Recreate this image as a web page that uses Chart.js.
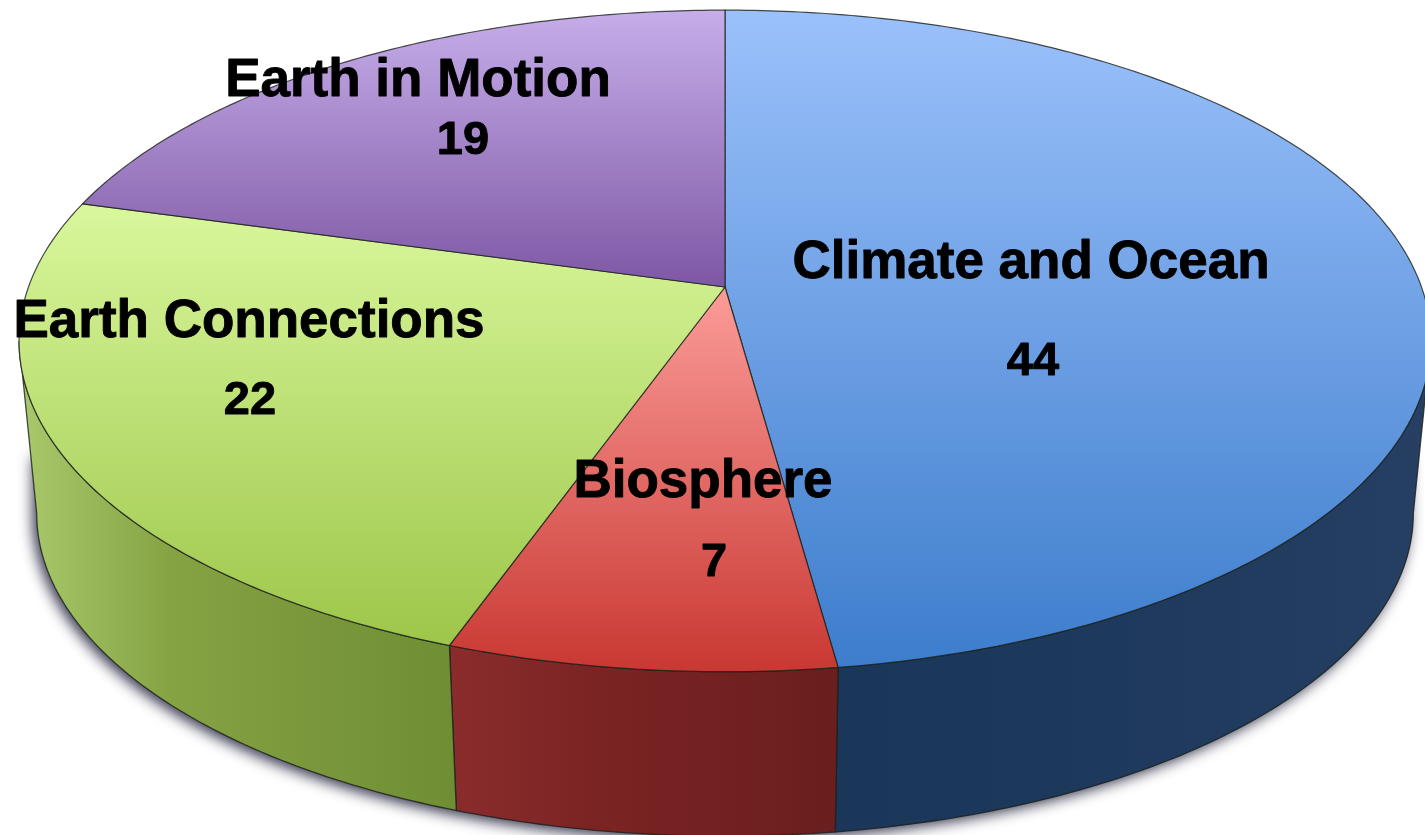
<!DOCTYPE html>
<html>
<head>
<meta charset="utf-8">
<title>Earth science topics</title>
<script src="https://cdn.jsdelivr.net/npm/chart.js@4"></script>
<style>
  html, body { margin: 0; padding: 0; background: #fff; overflow: hidden; }
  canvas { display: block; }
</style>
</head>
<body>
<canvas id="pie" width="1425" height="835"></canvas>
<script>
const categories = ['Climate and Ocean', 'Biosphere', 'Earth Connections', 'Earth in Motion'];
const counts = [44, 7, 22, 19];

// top face gradient (light, dark) per slice
const faceLight = ['#9bc1fb', '#fb9c99', '#d9f79c', '#c6aeea'];
const faceDark = ['#3d7dcc', '#c93832', '#9dc64a', '#7e57a4'];
// side wall gradient stops per slice, left to right
const wallLeft = ['#1a3659', '#8b2c2c', '#a9c96c', '#000000'];
const wallMid = ['#1c385b', '#7c2424', '#85a343', '#000000'];
const wallRight = ['#263f62', '#6a1e1e', '#6f8d33', '#000000'];

// label anchors: centre x and baseline y, for the name and the number
const labelPos = [
  { x: 1031, y: 278, nx: 1033, ny: 375 },
  { x: 703, y: 497, nx: 714, ny: 576 },
  { x: 249, y: 337, nx: 250, ny: 414 },
  { x: 418, y: 96, nx: 463, ny: 154 }
];

// perspective disc: unit circle seen from above and in front
const view = { cx: 725, cy: 287, rx: 696.5, ry: 322, tilt: 0.163 };
const base = { dy: 174, scale: 0.975 };

function project(a, floor) {
  const d = 1 - view.tilt * Math.sin(a);
  const x = view.rx * Math.cos(a) / d;
  const y = view.ry * Math.sin(a) / d;
  if (!floor) return { x: view.cx + x, y: view.cy + y };
  return { x: view.cx + x * base.scale, y: view.cy + base.dy + y * base.scale };
}

function arcPoints(start, end, floor) {
  const pts = [];
  const n = Math.max(2, Math.ceil((end - start) * 80));
  for (let i = 0; i <= n; i++) pts.push(project(start + (end - start) * i / n, floor));
  return pts;
}

function tracePath(ctx, pts) {
  ctx.beginPath();
  pts.forEach((p, i) => (i ? ctx.lineTo(p.x, p.y) : ctx.moveTo(p.x, p.y)));
}

const edge = 'rgba(28, 34, 28, 0.8)';

function drawWalls(ctx, arcs) {
  const visFrom = Math.asin(view.tilt);
  const visTo = Math.PI - visFrom;

  // soft shadow around the lower part of the wall, heavier on the left
  const rim = arcPoints(visFrom, visTo, true);
  const first = rim[0];
  const last = rim[rim.length - 1];
  ctx.save();
  ctx.shadowColor = 'rgba(45, 45, 70, 0.95)';
  ctx.shadowBlur = 14;
  ctx.shadowOffsetX = -4;
  ctx.shadowOffsetY = 4;
  ctx.fillStyle = '#555';
  tracePath(ctx, rim.concat([{ x: last.x, y: last.y - 60 }, { x: first.x, y: first.y - 60 }]));
  ctx.closePath();
  ctx.fill();
  ctx.restore();

  arcs.forEach((arc, i) => {
    const from = Math.max(arc.startAngle, visFrom);
    const to = Math.min(arc.endAngle, visTo);
    if (to <= from) return;
    const upper = arcPoints(from, to, false);
    const lower = arcPoints(from, to, true);
    const xs = upper.concat(lower).map(p => p.x);
    const g = ctx.createLinearGradient(Math.min(...xs), 0, Math.max(...xs), 0);
    g.addColorStop(0, wallLeft[i]);
    g.addColorStop(0.35, wallMid[i]);
    g.addColorStop(1, wallRight[i]);
    tracePath(ctx, upper.concat(lower.slice().reverse()));
    ctx.closePath();
    ctx.fillStyle = g;
    ctx.fill();
    ctx.strokeStyle = edge;
    ctx.lineWidth = 1.3;
    ctx.stroke();
  });
}

function drawFaces(ctx, arcs) {
  arcs.forEach((arc, i) => {
    const rim = arcPoints(arc.startAngle, arc.endAngle, false);
    const pts = [{ x: view.cx, y: view.cy }].concat(rim);
    const ys = pts.map(p => p.y);
    const g = ctx.createLinearGradient(0, Math.min(...ys), 0, Math.max(...ys));
    g.addColorStop(0, faceLight[i]);
    g.addColorStop(1, faceDark[i]);
    tracePath(ctx, pts);
    ctx.closePath();
    ctx.fillStyle = g;
    ctx.fill();
    ctx.strokeStyle = edge;
    ctx.lineWidth = 1.2;
    ctx.stroke();
  });
}

function drawLabel(ctx, text, x, y, font) {
  ctx.font = font;
  ctx.fillText(text, x, y);
  ctx.strokeText(text, x, y);
}

// Replaces the flat arc drawing, the slice angles still come from the pie controller
const perspectivePie = {
  id: 'perspectivePie',
  beforeDatasetsDraw(chart) {
    const arcs = chart.getDatasetMeta(0).data.map(el => el.getProps(['startAngle', 'endAngle'], true));
    drawWalls(chart.ctx, arcs);
    drawFaces(chart.ctx, arcs);
    return false;
  },
  afterDraw(chart) {
    const ctx = chart.ctx;
    ctx.save();
    ctx.fillStyle = '#000';
    ctx.strokeStyle = '#000';
    ctx.lineWidth = 0.9;
    ctx.lineJoin = 'round';
    ctx.textAlign = 'center';
    ctx.textBaseline = 'alphabetic';
    categories.forEach((name, i) => {
      const pos = labelPos[i];
      drawLabel(ctx, name, pos.x, pos.y, 'bold 53px "Liberation Sans", Arial, sans-serif');
      drawLabel(ctx, String(counts[i]), pos.nx, pos.ny, 'bold 47px "Liberation Sans", Arial, sans-serif');
    });
    ctx.restore();
  }
};

new Chart(document.getElementById('pie'), {
  type: 'pie',
  data: {
    labels: categories,
    datasets: [{ data: counts, backgroundColor: faceDark, borderWidth: 0 }]
  },
  options: {
    responsive: false,
    animation: false,
    events: [],
    plugins: { legend: { display: false }, tooltip: { enabled: false } }
  },
  plugins: [perspectivePie]
});
</script>
</body>
</html>
